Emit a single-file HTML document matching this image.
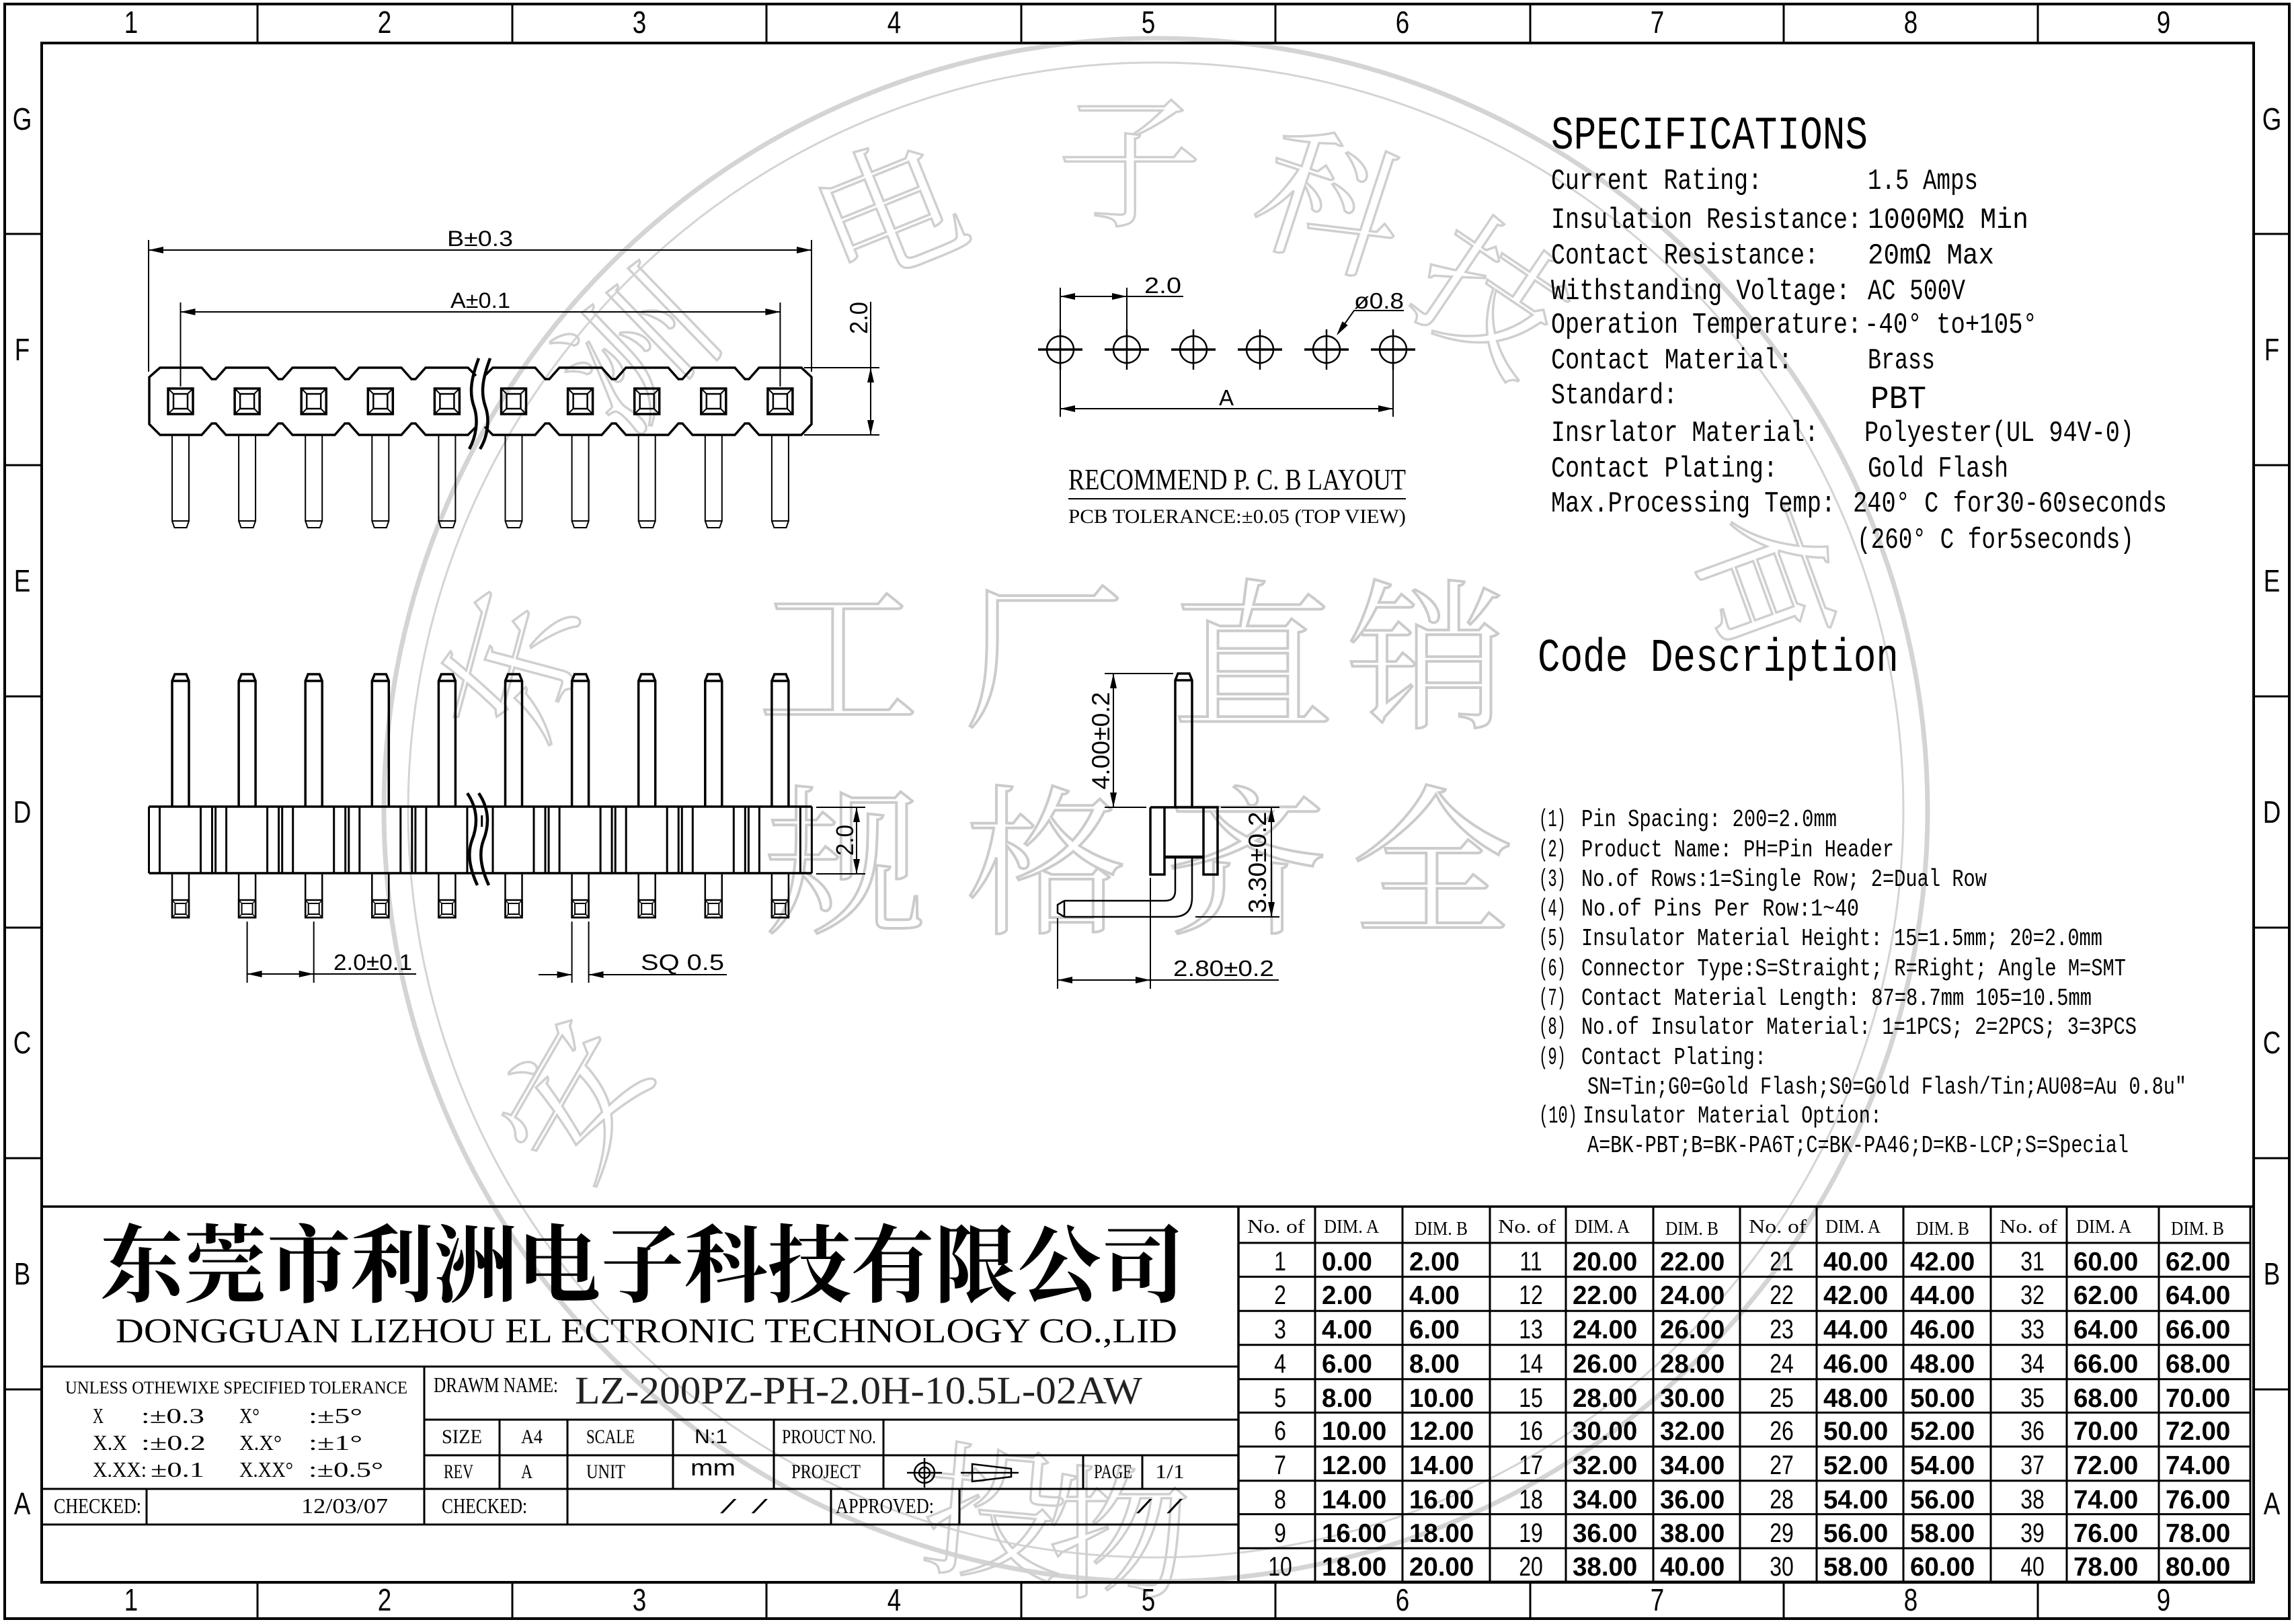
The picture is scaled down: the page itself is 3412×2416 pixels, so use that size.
<!DOCTYPE html>
<html><head><meta charset="utf-8"><style>
html,body{margin:0;padding:0;background:#fff}
svg{display:block}
.s{font-family:"Liberation Sans",sans-serif}
.m{font-family:"Liberation Mono",monospace}
.r{font-family:"Liberation Serif",serif}
.c{font-family:"Liberation Serif","Noto Serif CJK SC","Noto Sans CJK SC",serif}
.b{font-family:"Liberation Sans",sans-serif;font-weight:bold}
</style></head><body>
<svg xmlns="http://www.w3.org/2000/svg" xmlns:xlink="http://www.w3.org/1999/xlink" width="3412" height="2416" viewBox="0 0 3412 2416">
<rect width="3412" height="2416" fill="#fff"/>

<!-- watermark -->
<g fill="none" stroke="#d4d4d4">
<circle cx="1719" cy="1205" r="1148" stroke-width="7"/>
<circle cx="1719" cy="1205" r="1112" stroke-width="3"/>
</g>
<g class="c" font-size="240" fill="none" stroke="#cbcbcb" stroke-width="4" text-anchor="middle">
<text x="1247" y="1064">工</text><text x="1553" y="1064">厂</text><text x="1863" y="1064">直</text><text x="2123" y="1064">销</text>
<text x="1258" y="1370">规</text><text x="1556" y="1370">格</text><text x="1855" y="1370">齐</text><text x="2130" y="1370">全</text>
</g>
<g class="c" font-size="215" fill="none" stroke="#cfcfcf" stroke-width="3.5" text-anchor="middle">
<text transform="translate(947,520) rotate(-44)" y="80">洲</text>
<text transform="translate(1320,315) rotate(-22)" y="80">电</text>
<text transform="translate(1680,240) rotate(0)" y="80">子</text>
<text transform="translate(1980,300) rotate(18)" y="80">科</text>
<text transform="translate(2220,440) rotate(34)" y="80">技</text>
<text transform="translate(2629,863) rotate(70)" y="80">有</text>
<text transform="translate(760,990) rotate(-75)" y="80">东</text>
<text transform="translate(852,1633) rotate(-60)" y="80">安</text>
<text transform="translate(1480,2250) rotate(5)" y="80">投</text>
<text transform="translate(1664,2280) rotate(0)" y="80">物</text>
</g>

<!-- frame -->
<g fill="none" stroke="#000">
<rect x="7" y="6" width="3398" height="2402" stroke-width="4"/>
<rect x="62" y="64" width="3290" height="2290" stroke-width="4"/>
<path stroke-width="3" d="M383,6V64M762,6V64M1140,6V64M1519,6V64M1897,6V64M2276,6V64M2653,6V64M3031,6V64
M383,2354V2408M762,2354V2408M1140,2354V2408M1519,2354V2408M1897,2354V2408M2276,2354V2408M2653,2354V2408M3031,2354V2408
M7,348H62M7,692H62M7,1036H62M7,1380H62M7,1723H62M7,2067H62
M3352,348H3405M3352,692H3405M3352,1036H3405M3352,1380H3405M3352,1723H3405M3352,2067H3405"/>
</g>
<g class="s" font-size="46" text-anchor="middle">
<text transform="translate(195,49) scale(0.8,1)">1</text>
<text transform="translate(572,49) scale(0.8,1)">2</text>
<text transform="translate(951,49) scale(0.8,1)">3</text>
<text transform="translate(1330,49) scale(0.8,1)">4</text>
<text transform="translate(1708,49) scale(0.8,1)">5</text>
<text transform="translate(2086,49) scale(0.8,1)">6</text>
<text transform="translate(2465,49) scale(0.8,1)">7</text>
<text transform="translate(2842,49) scale(0.8,1)">8</text>
<text transform="translate(3218,49) scale(0.8,1)">9</text>
<text transform="translate(195,2396) scale(0.8,1)">1</text>
<text transform="translate(572,2396) scale(0.8,1)">2</text>
<text transform="translate(951,2396) scale(0.8,1)">3</text>
<text transform="translate(1330,2396) scale(0.8,1)">4</text>
<text transform="translate(1708,2396) scale(0.8,1)">5</text>
<text transform="translate(2086,2396) scale(0.8,1)">6</text>
<text transform="translate(2465,2396) scale(0.8,1)">7</text>
<text transform="translate(2842,2396) scale(0.8,1)">8</text>
<text transform="translate(3218,2396) scale(0.8,1)">9</text>
<text transform="translate(33,193) scale(0.8,1)">G</text>
<text transform="translate(33,536) scale(0.8,1)">F</text>
<text transform="translate(33,880) scale(0.8,1)">E</text>
<text transform="translate(33,1224) scale(0.8,1)">D</text>
<text transform="translate(33,1567) scale(0.8,1)">C</text>
<text transform="translate(33,1911) scale(0.8,1)">B</text>
<text transform="translate(33,2253) scale(0.8,1)">A</text>
<text transform="translate(3379,193) scale(0.8,1)">G</text>
<text transform="translate(3379,536) scale(0.8,1)">F</text>
<text transform="translate(3379,880) scale(0.8,1)">E</text>
<text transform="translate(3379,1224) scale(0.8,1)">D</text>
<text transform="translate(3379,1567) scale(0.8,1)">C</text>
<text transform="translate(3379,1911) scale(0.8,1)">B</text>
<text transform="translate(3379,2253) scale(0.8,1)">A</text>
</g>

<defs>
<g id="tpin" fill="none" stroke="#000">
<rect x="-18.5" y="578" width="37" height="38" stroke-width="3.5"/>
<rect x="-10.5" y="586" width="21" height="22" stroke-width="2.5"/>
<path stroke-width="2" d="M-18.5,578L-10.5,586M18.5,578L10.5,586M-18.5,616L-10.5,608M18.5,616L10.5,608"/>
<path stroke-width="2" d="M-12.5,647V775H12.5V647M-12.5,775L-9,785H9L12.5,775"/>
</g>
<g id="fpin" fill="none" stroke="#000">
<path stroke-width="3.5" d="M-12.5,1200V1013L-8.5,1003H8.5L12.5,1013V1200M-12.5,1013H12.5"/>
<path stroke-width="3" d="M-31,1200V1299M30,1200V1299"/>
<path stroke-width="2.5" d="M-12.5,1299V1365H12.5V1299"/>
<rect x="-12.5" y="1339" width="25" height="26" stroke-width="2.5"/>
<rect x="-8" y="1344" width="16" height="16" stroke-width="2"/>
<path stroke-width="1.5" d="M-12.5,1339L-8,1344M12.5,1339L8,1344M-12.5,1365L-8,1360M12.5,1365L8,1360"/>
</g>
</defs>

<!-- TOP VIEW -->
<g fill="none" stroke="#000" stroke-width="3.5" stroke-linejoin="miter">
<path d="M708,559L696,547H633L618,564H612L597,547H534L519,564H513L498,547H435L420,564H414L399,547H336L321,564H315L300,547H238L222,561V631L238,647H300L315,630H321L336,647H399L414,630H420L435,647H498L513,630H519L534,647H597L612,630H618L633,647H696L708,635"/>
<path d="M721,559L733,547H796L811,564H817L832,547H895L910,564H916L931,547H994L1009,564H1015L1030,547H1093L1108,564H1114L1129,547H1192L1207,561V631L1192,647H1129L1114,630H1108L1093,647H1030L1015,630H1009L994,647H931L916,630H910L895,647H832L817,630H811L796,647H733L721,635"/>
<path stroke-width="4.5" d="M712,533C700,565 698,585 705,605C712,625 708,650 698,668"/>
<path stroke-width="4.5" d="M729,533C717,565 715,585 722,605C729,625 725,650 714,668"/>
</g>
<use xlink:href="#tpin" x="268.5"/><use xlink:href="#tpin" x="367.6"/><use xlink:href="#tpin" x="466.7"/><use xlink:href="#tpin" x="565.8"/><use xlink:href="#tpin" x="664.9"/>
<use xlink:href="#tpin" x="764"/><use xlink:href="#tpin" x="863.1"/><use xlink:href="#tpin" x="962.2"/><use xlink:href="#tpin" x="1061.3"/><use xlink:href="#tpin" x="1160.4"/>
<g fill="none" stroke="#000" stroke-width="2">
<path d="M221,357V553M1207,357V553M221,372H1207"/>
<path d="M268.5,450V575M1160.4,450V575M268.5,464H1160.4"/>
<path d="M1196,547H1308M1196,647H1308M1295,449V647"/>
</g>
<g fill="#000">
<polygon points="221,372 243,367 243,377"/><polygon points="1207,372 1185,367 1185,377"/>
<polygon points="268.5,464 290.5,459 290.5,469"/><polygon points="1160.4,464 1138.4,459 1138.4,469"/>
<polygon points="1295,547 1290,569 1300,569"/><polygon points="1295,647 1290,625 1300,625"/>
</g>
<g class="s" font-size="32">
<text x="665" y="366" textLength="98" lengthAdjust="spacingAndGlyphs">B±0.3</text>
<text x="670" y="458" textLength="89" lengthAdjust="spacingAndGlyphs">A±0.1</text>
<text transform="translate(1290,473) rotate(-90)" text-anchor="middle" font-size="37" textLength="48" lengthAdjust="spacingAndGlyphs">2.0</text>
</g>

<!-- FRONT VIEW -->
<g fill="none" stroke="#000" stroke-width="3.5">
<path d="M221.5,1200H1207.4M221.5,1299H1207.4"/>
<path stroke-width="3" d="M221.5,1200V1299M315.5,1200V1299M320.6,1200V1299M414.6,1200V1299M419.7,1200V1299M513.7,1200V1299M518.8,1200V1299M612.8,1200V1299M617.9,1200V1299M811,1200V1299M816.1,1200V1299M910.1,1200V1299M915.2,1200V1299M1009.2,1200V1299M1014.3,1200V1299M1108.3,1200V1299M1113.4,1200V1299M1207.4,1200V1299"/>
<path stroke-width="4.5" d="M695,1180C712,1205 710,1230 702,1250C694,1272 700,1295 710,1317"/>
<path stroke-width="4.5" d="M712,1180C729,1205 727,1230 719,1250C711,1272 717,1295 727,1317"/>
<path stroke-width="3" d="M716.7,1213V1230"/>
</g>
<use xlink:href="#fpin" x="268.5"/><use xlink:href="#fpin" x="367.6"/><use xlink:href="#fpin" x="466.7"/><use xlink:href="#fpin" x="565.8"/><use xlink:href="#fpin" x="664.9"/>
<use xlink:href="#fpin" x="764"/><use xlink:href="#fpin" x="863.1"/><use xlink:href="#fpin" x="962.2"/><use xlink:href="#fpin" x="1061.3"/><use xlink:href="#fpin" x="1160.4"/>
<g fill="none" stroke="#000" stroke-width="2">
<path d="M367.6,1371V1462M466.7,1371V1462M367.6,1449H619"/>
<path d="M850.6,1371V1462M875.6,1371V1462M801,1450H850.6M875.6,1450H1081"/>
<path d="M1214,1201H1287M1214,1300H1287M1274,1201V1300"/>
</g>
<g fill="#000">
<polygon points="367.6,1449 389.6,1444 389.6,1454"/><polygon points="466.7,1449 444.7,1444 444.7,1454"/>
<polygon points="850.6,1450 828.6,1445 828.6,1455"/><polygon points="875.6,1450 897.6,1445 897.6,1455"/>
<polygon points="1274,1201 1269,1223 1279,1223"/><polygon points="1274,1300 1269,1278 1279,1278"/>
</g>
<g class="s" font-size="33">
<text x="496" y="1443" textLength="117" lengthAdjust="spacingAndGlyphs">2.0±0.1</text>
<text x="953" y="1443" textLength="124" lengthAdjust="spacingAndGlyphs">SQ  0.5</text>
<text transform="translate(1269,1250) rotate(-90)" text-anchor="middle" font-size="36" textLength="46" lengthAdjust="spacingAndGlyphs">2.0</text>
</g>

<!-- PCB LAYOUT -->
<g fill="none" stroke="#000">
<g stroke-width="2.5">
<circle cx="1577" cy="520" r="20"/><circle cx="1676" cy="520" r="20"/><circle cx="1775" cy="520" r="20"/>
<circle cx="1874" cy="520" r="20"/><circle cx="1973" cy="520" r="20"/><circle cx="2072" cy="520" r="20"/>
</g>
<path stroke-width="3.5" d="M1544,520H1610M1643,520H1709M1742,520H1808M1841,520H1907M1940,520H2006M2039,520H2105"/>
<path stroke-width="2.5" d="M1577,490V550M1676,490V550M1775,490V550M1874,490V550M1973,490V550M2072,490V550"/>
<path stroke-width="2" d="M1577,428V620M1676,428V500M2072,540V620M1577,441H1760M1577,608H2072M2088,462H2014L1990,496"/>
</g>
<g fill="#000">
<polygon points="1577,441 1599,436 1599,446"/><polygon points="1676,441 1654,436 1654,446"/>
<polygon points="1577,608 1599,603 1599,613"/><polygon points="2072,608 2050,603 2050,613"/>
<polygon points="1988,499 2004.7,483.9 1996.5,478.1"/>
</g>
<g class="s" font-size="33">
<text x="1702" y="436" textLength="55" lengthAdjust="spacingAndGlyphs">2.0</text>
<text x="2014" y="459" textLength="74" lengthAdjust="spacingAndGlyphs">ø0.8</text>
<text x="1824" y="603" text-anchor="middle">A</text>
</g>
<text class="r" x="1589" y="728" font-size="44" textLength="502" lengthAdjust="spacingAndGlyphs">RECOMMEND P. C. B LAYOUT</text>
<path d="M1589,742H2091" stroke="#000" stroke-width="2"/>
<text class="r" x="1589" y="778" font-size="30" textLength="502" lengthAdjust="spacingAndGlyphs">PCB TOLERANCE:±0.05 (TOP VIEW)</text>

<!-- RIGHT ANGLE VIEW -->
<g fill="none" stroke="#000" stroke-width="3.5">
<path d="M1748,1201V1012L1752,1002H1769L1773,1012V1201M1748,1012H1773"/>
<path d="M1711,1201H1811V1301H1790V1201M1732,1201V1301H1711V1201"/>
<path stroke-width="4.5" d="M1732,1275H1790"/>
<path stroke-width="2.5" d="M1748,1277V1325Q1748,1340 1733,1340H1583M1773,1277V1335Q1773,1364 1745,1364H1583M1583,1340L1573,1346V1358L1583,1364M1583,1340V1364"/>
</g>
<g fill="none" stroke="#000" stroke-width="2">
<path d="M1643,1002H1745M1643,1201H1705M1656,1002V1201"/>
<path d="M1816,1201H1903M1778,1364H1903M1891,1201V1364"/>
<path d="M1573,1366V1471M1711,1306V1471M1573,1458H1902"/>
</g>
<g fill="#000">
<polygon points="1656,1002 1651,1024 1661,1024"/><polygon points="1656,1201 1651,1179 1661,1179"/>
<polygon points="1891,1201 1886,1223 1896,1223"/><polygon points="1891,1364 1886,1342 1896,1342"/>
<polygon points="1573,1458 1595,1453 1595,1463"/><polygon points="1711,1458 1689,1453 1689,1463"/>
</g>
<g class="s" font-size="37">
<text transform="translate(1650,1102) rotate(-90)" text-anchor="middle" textLength="145" lengthAdjust="spacingAndGlyphs">4.00±0.2</text>
<text transform="translate(1883,1283) rotate(-90)" text-anchor="middle" textLength="151" lengthAdjust="spacingAndGlyphs">3.30±0.2</text>
<text x="1745" y="1452" font-size="33" textLength="150" lengthAdjust="spacingAndGlyphs">2.80±0.2</text>
</g>

<!-- SPECIFICATIONS -->
<g class="m" font-size="44">
<text x="2307" y="221" font-size="70" textLength="471" lengthAdjust="spacingAndGlyphs">SPECIFICATIONS</text>
<text x="2307" y="281" textLength="314" lengthAdjust="spacingAndGlyphs">Current Rating:</text>
<text x="2778" y="281" textLength="164" lengthAdjust="spacingAndGlyphs">1.5 Amps</text>
<text x="2307" y="339" textLength="462" lengthAdjust="spacingAndGlyphs">Insulation Resistance:</text>
<text x="2778" y="339" textLength="239" lengthAdjust="spacingAndGlyphs">1000MΩ  Min</text>
<text x="2307" y="392" textLength="398" lengthAdjust="spacingAndGlyphs">Contact Resistance:</text>
<text x="2778" y="392" textLength="188" lengthAdjust="spacingAndGlyphs">20mΩ  Max</text>
<text x="2307" y="445" textLength="445" lengthAdjust="spacingAndGlyphs">Withstanding Voltage:</text>
<text x="2778" y="445" textLength="145" lengthAdjust="spacingAndGlyphs">AC 500V</text>
<text x="2307" y="495" textLength="462" lengthAdjust="spacingAndGlyphs">Operation Temperature:</text>
<text x="2773" y="495" textLength="257" lengthAdjust="spacingAndGlyphs">-40° to+105°</text>
<text x="2307" y="548" textLength="359" lengthAdjust="spacingAndGlyphs">Contact Material:</text>
<text x="2778" y="548" textLength="100" lengthAdjust="spacingAndGlyphs">Brass</text>
<text x="2307" y="600" textLength="188" lengthAdjust="spacingAndGlyphs">Standard:</text>
<text x="2782" y="607" font-size="48" textLength="83" lengthAdjust="spacingAndGlyphs">PBT</text>
<text x="2307" y="656" textLength="398" lengthAdjust="spacingAndGlyphs">Insrlator Material:</text>
<text x="2773" y="656" textLength="401" lengthAdjust="spacingAndGlyphs">Polyester(UL 94V-0)</text>
<text x="2307" y="709" textLength="337" lengthAdjust="spacingAndGlyphs">Contact Plating:</text>
<text x="2778" y="709" textLength="209" lengthAdjust="spacingAndGlyphs">Gold Flash</text>
<text x="2307" y="761" textLength="423" lengthAdjust="spacingAndGlyphs">Max.Processing Temp:</text>
<text x="2756" y="761" textLength="467" lengthAdjust="spacingAndGlyphs">240° C for30-60seconds</text>
<text x="2762" y="815" textLength="412" lengthAdjust="spacingAndGlyphs">(260° C for5seconds)</text>
</g>

<!-- CODE DESCRIPTION -->
<g class="m" font-size="36">
<text x="2287" y="998" font-size="70" textLength="537" lengthAdjust="spacingAndGlyphs">Code Description</text>
<text x="2289" y="1229" textLength="40" lengthAdjust="spacingAndGlyphs">(1)</text>
<text x="2352" y="1229" textLength="380" lengthAdjust="spacingAndGlyphs">Pin Spacing: 200=2.0mm</text>
<text x="2289" y="1274" textLength="40" lengthAdjust="spacingAndGlyphs">(2)</text>
<text x="2352" y="1274" textLength="465" lengthAdjust="spacingAndGlyphs">Product Name: PH=Pin Header</text>
<text x="2289" y="1318" textLength="40" lengthAdjust="spacingAndGlyphs">(3)</text>
<text x="2352" y="1318" textLength="603" lengthAdjust="spacingAndGlyphs">No.of Rows:1=Single Row; 2=Dual Row</text>
<text x="2289" y="1362" textLength="40" lengthAdjust="spacingAndGlyphs">(4)</text>
<text x="2352" y="1362" textLength="413" lengthAdjust="spacingAndGlyphs">No.of Pins Per Row:1~40</text>
<text x="2289" y="1406" textLength="40" lengthAdjust="spacingAndGlyphs">(5)</text>
<text x="2352" y="1406" textLength="775" lengthAdjust="spacingAndGlyphs">Insulator Material Height: 15=1.5mm; 20=2.0mm</text>
<text x="2289" y="1451" textLength="40" lengthAdjust="spacingAndGlyphs">(6)</text>
<text x="2352" y="1451" textLength="810" lengthAdjust="spacingAndGlyphs">Connector Type:S=Straight; R=Right; Angle M=SMT</text>
<text x="2289" y="1495" textLength="40" lengthAdjust="spacingAndGlyphs">(7)</text>
<text x="2352" y="1495" textLength="759" lengthAdjust="spacingAndGlyphs">Contact Material Length: 87=8.7mm 105=10.5mm</text>
<text x="2289" y="1538" textLength="40" lengthAdjust="spacingAndGlyphs">(8)</text>
<text x="2352" y="1538" textLength="826" lengthAdjust="spacingAndGlyphs">No.of Insulator Material: 1=1PCS; 2=2PCS; 3=3PCS</text>
<text x="2289" y="1583" textLength="40" lengthAdjust="spacingAndGlyphs">(9)</text>
<text x="2352" y="1583" textLength="275" lengthAdjust="spacingAndGlyphs">Contact Plating:</text>
<text x="2361" y="1627" textLength="891" lengthAdjust="spacingAndGlyphs">SN=Tin;G0=Gold Flash;S0=Gold Flash/Tin;AU08=Au 0.8u″</text>
<text x="2289" y="1670" textLength="57" lengthAdjust="spacingAndGlyphs">(10)</text>
<text x="2354" y="1670" textLength="445" lengthAdjust="spacingAndGlyphs">Insulator Material Option:</text>
<text x="2361" y="1714" textLength="805" lengthAdjust="spacingAndGlyphs">A=BK-PBT;B=BK-PA6T;C=BK-PA46;D=KB-LCP;S=Special</text>
</g>

<!-- TITLE BLOCK -->
<g fill="none" stroke="#000" stroke-width="3">
<path stroke-width="3.5" d="M62,1795H3352"/>
<path d="M62,2033H1842M631,2112H1842M631,2165H1842M62,2215H1842M62,2268H1842"/>
<path d="M631,2033V2268M743,2112V2215M844,2112V2268M1001,2112V2215M1151,2112V2215M1314,2112V2215M1611,2165V2215M1699,2165V2215M218,2215V2268M1236,2215V2268M1427,2215V2268"/>
<path stroke-width="3.5" d="M1842,1795V2354"/>
</g>
<text class="c" x="149" y="1927" font-size="126" font-weight="bold" textLength="1613" lengthAdjust="spacingAndGlyphs">东莞市利洲电子科技有限公司</text>
<text class="r" x="172" y="1997" font-size="52" textLength="1579" lengthAdjust="spacingAndGlyphs">DONGGUAN LIZHOU EL ECTRONIC TECHNOLOGY CO.,LID</text>
<g class="r" font-size="32">
<text x="97" y="2073" font-size="26" textLength="509" lengthAdjust="spacingAndGlyphs">UNLESS OTHEWIXE SPECIFIED TOLERANCE</text>
<text x="138" y="2117" textLength="16" lengthAdjust="spacingAndGlyphs">X</text>
<text x="210" y="2117" textLength="94" lengthAdjust="spacingAndGlyphs">:±0.3</text>
<text x="356" y="2117" textLength="30" lengthAdjust="spacingAndGlyphs">X°</text>
<text x="459" y="2117" textLength="80" lengthAdjust="spacingAndGlyphs">:±5°</text>
<text x="138" y="2157" textLength="51" lengthAdjust="spacingAndGlyphs">X.X</text>
<text x="210" y="2157" textLength="96" lengthAdjust="spacingAndGlyphs">:±0.2</text>
<text x="356" y="2157" textLength="63" lengthAdjust="spacingAndGlyphs">X.X°</text>
<text x="459" y="2157" textLength="80" lengthAdjust="spacingAndGlyphs">:±1°</text>
<text x="138" y="2197" textLength="80" lengthAdjust="spacingAndGlyphs">X.XX:</text>
<text x="224" y="2197" textLength="80" lengthAdjust="spacingAndGlyphs">±0.1</text>
<text x="356" y="2197" textLength="80" lengthAdjust="spacingAndGlyphs">X.XX°</text>
<text x="459" y="2197" textLength="111" lengthAdjust="spacingAndGlyphs">:±0.5°</text>
<text x="645" y="2071" textLength="185" lengthAdjust="spacingAndGlyphs">DRAWM NAME:</text>
<text x="855" y="2088" font-size="58" fill="#222" textLength="844" lengthAdjust="spacingAndGlyphs">LZ-200PZ-PH-2.0H-10.5L-02AW</text>
<text x="657" y="2147" font-size="30" textLength="60" lengthAdjust="spacingAndGlyphs">SIZE</text>
<text x="775" y="2147" font-size="30" textLength="32" lengthAdjust="spacingAndGlyphs">A4</text>
<text x="872" y="2147" font-size="30" textLength="72" lengthAdjust="spacingAndGlyphs">SCALE</text>
<text class="s" x="1033" y="2147" font-size="30" textLength="49" lengthAdjust="spacingAndGlyphs">N:1</text>
<text x="1163" y="2147" font-size="30" textLength="140" lengthAdjust="spacingAndGlyphs">PROUCT NO.</text>
<text x="660" y="2199" font-size="30" textLength="44" lengthAdjust="spacingAndGlyphs">REV</text>
<text x="775" y="2199" font-size="30" textLength="17" lengthAdjust="spacingAndGlyphs">A</text>
<text x="872" y="2199" font-size="30" textLength="58" lengthAdjust="spacingAndGlyphs">UNIT</text>
<text class="s" x="1027" y="2195" font-size="34" textLength="67" lengthAdjust="spacingAndGlyphs">mm</text>
<text x="1177" y="2199" font-size="30" textLength="103" lengthAdjust="spacingAndGlyphs">PROJECT</text>
<text x="1627" y="2199" font-size="30" textLength="57" lengthAdjust="spacingAndGlyphs">PAGE</text>
<text x="1718" y="2199" font-size="30" textLength="44" lengthAdjust="spacingAndGlyphs">1/1</text>
<text x="80" y="2251" textLength="130" lengthAdjust="spacingAndGlyphs">CHECKED:</text>
<text x="448" y="2251" textLength="129" lengthAdjust="spacingAndGlyphs">12/03/07</text>
<text x="657" y="2251" textLength="127" lengthAdjust="spacingAndGlyphs">CHECKED:</text>
<text x="1071" y="2251" textLength="71" lengthAdjust="spacingAndGlyphs">/   /</text>
<text x="1243" y="2251" textLength="146" lengthAdjust="spacingAndGlyphs">APPROVED:</text>
<text x="1690" y="2251" textLength="69" lengthAdjust="spacingAndGlyphs">/   /</text>
</g>
<g fill="none" stroke="#000" stroke-width="2.5">
<circle cx="1375" cy="2191" r="15"/><circle cx="1375" cy="2191" r="8"/>
<path d="M1349,2191H1401M1375,2169V2213M1429,2191H1515M1446,2178V2204L1504,2197V2185Z"/>
</g>

<!-- TABLE -->
<g fill="none" stroke="#000" stroke-width="3">
<path d="M1842,1849H3347M1842,1899.4H3347M1842,1950.3H3347M1842,2000.8H3347M1842,2051.7H3347M1842,2101.5H3347M1842,2152H3347M1842,2202.9H3347M1842,2252.6H3347M1842,2303.2H3347M1842,2353H3347"/>
<path d="M1956,1795V2353M2086,1795V2353M2216,1795V2353M2329,1795V2353M2459,1795V2353M2588,1795V2353M2702,1795V2353M2831,1795V2353M2961,1795V2353M3074,1795V2353M3211,1795V2353M3347,1795V2353"/>
</g>
<g class="r" font-size="28">
<text x="1855" y="1834" textLength="86" lengthAdjust="spacingAndGlyphs">No. of</text>
<text x="1969" y="1834" textLength="82" lengthAdjust="spacingAndGlyphs">DIM. A</text>
<text x="2104" y="1837" textLength="79" lengthAdjust="spacingAndGlyphs">DIM. B</text>
<text x="2228" y="1834" textLength="86" lengthAdjust="spacingAndGlyphs">No. of</text>
<text x="2342" y="1834" textLength="82" lengthAdjust="spacingAndGlyphs">DIM. A</text>
<text x="2477" y="1837" textLength="79" lengthAdjust="spacingAndGlyphs">DIM. B</text>
<text x="2601" y="1834" textLength="86" lengthAdjust="spacingAndGlyphs">No. of</text>
<text x="2715" y="1834" textLength="82" lengthAdjust="spacingAndGlyphs">DIM. A</text>
<text x="2850" y="1837" textLength="79" lengthAdjust="spacingAndGlyphs">DIM. B</text>
<text x="2974" y="1834" textLength="86" lengthAdjust="spacingAndGlyphs">No. of</text>
<text x="3088" y="1834" textLength="82" lengthAdjust="spacingAndGlyphs">DIM. A</text>
<text x="3229" y="1837" textLength="79" lengthAdjust="spacingAndGlyphs">DIM. B</text>
</g>
<g class="s" font-size="40" text-anchor="middle">
<g transform="translate(1904,0) scale(0.8,1)"><text><tspan x="0" y="1890">1</tspan><tspan x="0" y="1940">2</tspan><tspan x="0" y="1991">3</tspan><tspan x="0" y="2042">4</tspan><tspan x="0" y="2093">5</tspan><tspan x="0" y="2142">6</tspan><tspan x="0" y="2193">7</tspan><tspan x="0" y="2244">8</tspan><tspan x="0" y="2294">9</tspan><tspan x="0" y="2344">10</tspan></text></g>
<g transform="translate(2277,0) scale(0.8,1)"><text><tspan x="0" y="1890">11</tspan><tspan x="0" y="1940">12</tspan><tspan x="0" y="1991">13</tspan><tspan x="0" y="2042">14</tspan><tspan x="0" y="2093">15</tspan><tspan x="0" y="2142">16</tspan><tspan x="0" y="2193">17</tspan><tspan x="0" y="2244">18</tspan><tspan x="0" y="2294">19</tspan><tspan x="0" y="2344">20</tspan></text></g>
<g transform="translate(2650,0) scale(0.8,1)"><text><tspan x="0" y="1890">21</tspan><tspan x="0" y="1940">22</tspan><tspan x="0" y="1991">23</tspan><tspan x="0" y="2042">24</tspan><tspan x="0" y="2093">25</tspan><tspan x="0" y="2142">26</tspan><tspan x="0" y="2193">27</tspan><tspan x="0" y="2244">28</tspan><tspan x="0" y="2294">29</tspan><tspan x="0" y="2344">30</tspan></text></g>
<g transform="translate(3023,0) scale(0.8,1)"><text><tspan x="0" y="1890">31</tspan><tspan x="0" y="1940">32</tspan><tspan x="0" y="1991">33</tspan><tspan x="0" y="2042">34</tspan><tspan x="0" y="2093">35</tspan><tspan x="0" y="2142">36</tspan><tspan x="0" y="2193">37</tspan><tspan x="0" y="2244">38</tspan><tspan x="0" y="2294">39</tspan><tspan x="0" y="2344">40</tspan></text></g>
</g>
<g class="b" font-size="38.5">
<text><tspan x="1966" y="1890">0.00</tspan><tspan x="1966" y="1940">2.00</tspan><tspan x="1966" y="1991">4.00</tspan><tspan x="1966" y="2042">6.00</tspan><tspan x="1966" y="2093">8.00</tspan><tspan x="1966" y="2142">10.00</tspan><tspan x="1966" y="2193">12.00</tspan><tspan x="1966" y="2244">14.00</tspan><tspan x="1966" y="2294">16.00</tspan><tspan x="1966" y="2344">18.00</tspan></text>
<text><tspan x="2096" y="1890">2.00</tspan><tspan x="2096" y="1940">4.00</tspan><tspan x="2096" y="1991">6.00</tspan><tspan x="2096" y="2042">8.00</tspan><tspan x="2096" y="2093">10.00</tspan><tspan x="2096" y="2142">12.00</tspan><tspan x="2096" y="2193">14.00</tspan><tspan x="2096" y="2244">16.00</tspan><tspan x="2096" y="2294">18.00</tspan><tspan x="2096" y="2344">20.00</tspan></text>
<text><tspan x="2339" y="1890">20.00</tspan><tspan x="2339" y="1940">22.00</tspan><tspan x="2339" y="1991">24.00</tspan><tspan x="2339" y="2042">26.00</tspan><tspan x="2339" y="2093">28.00</tspan><tspan x="2339" y="2142">30.00</tspan><tspan x="2339" y="2193">32.00</tspan><tspan x="2339" y="2244">34.00</tspan><tspan x="2339" y="2294">36.00</tspan><tspan x="2339" y="2344">38.00</tspan></text>
<text><tspan x="2469" y="1890">22.00</tspan><tspan x="2469" y="1940">24.00</tspan><tspan x="2469" y="1991">26.00</tspan><tspan x="2469" y="2042">28.00</tspan><tspan x="2469" y="2093">30.00</tspan><tspan x="2469" y="2142">32.00</tspan><tspan x="2469" y="2193">34.00</tspan><tspan x="2469" y="2244">36.00</tspan><tspan x="2469" y="2294">38.00</tspan><tspan x="2469" y="2344">40.00</tspan></text>
<text><tspan x="2712" y="1890">40.00</tspan><tspan x="2712" y="1940">42.00</tspan><tspan x="2712" y="1991">44.00</tspan><tspan x="2712" y="2042">46.00</tspan><tspan x="2712" y="2093">48.00</tspan><tspan x="2712" y="2142">50.00</tspan><tspan x="2712" y="2193">52.00</tspan><tspan x="2712" y="2244">54.00</tspan><tspan x="2712" y="2294">56.00</tspan><tspan x="2712" y="2344">58.00</tspan></text>
<text><tspan x="2841" y="1890">42.00</tspan><tspan x="2841" y="1940">44.00</tspan><tspan x="2841" y="1991">46.00</tspan><tspan x="2841" y="2042">48.00</tspan><tspan x="2841" y="2093">50.00</tspan><tspan x="2841" y="2142">52.00</tspan><tspan x="2841" y="2193">54.00</tspan><tspan x="2841" y="2244">56.00</tspan><tspan x="2841" y="2294">58.00</tspan><tspan x="2841" y="2344">60.00</tspan></text>
<text><tspan x="3084" y="1890">60.00</tspan><tspan x="3084" y="1940">62.00</tspan><tspan x="3084" y="1991">64.00</tspan><tspan x="3084" y="2042">66.00</tspan><tspan x="3084" y="2093">68.00</tspan><tspan x="3084" y="2142">70.00</tspan><tspan x="3084" y="2193">72.00</tspan><tspan x="3084" y="2244">74.00</tspan><tspan x="3084" y="2294">76.00</tspan><tspan x="3084" y="2344">78.00</tspan></text>
<text><tspan x="3221" y="1890">62.00</tspan><tspan x="3221" y="1940">64.00</tspan><tspan x="3221" y="1991">66.00</tspan><tspan x="3221" y="2042">68.00</tspan><tspan x="3221" y="2093">70.00</tspan><tspan x="3221" y="2142">72.00</tspan><tspan x="3221" y="2193">74.00</tspan><tspan x="3221" y="2244">76.00</tspan><tspan x="3221" y="2294">78.00</tspan><tspan x="3221" y="2344">80.00</tspan></text>
</g>
</svg>
</body></html>
